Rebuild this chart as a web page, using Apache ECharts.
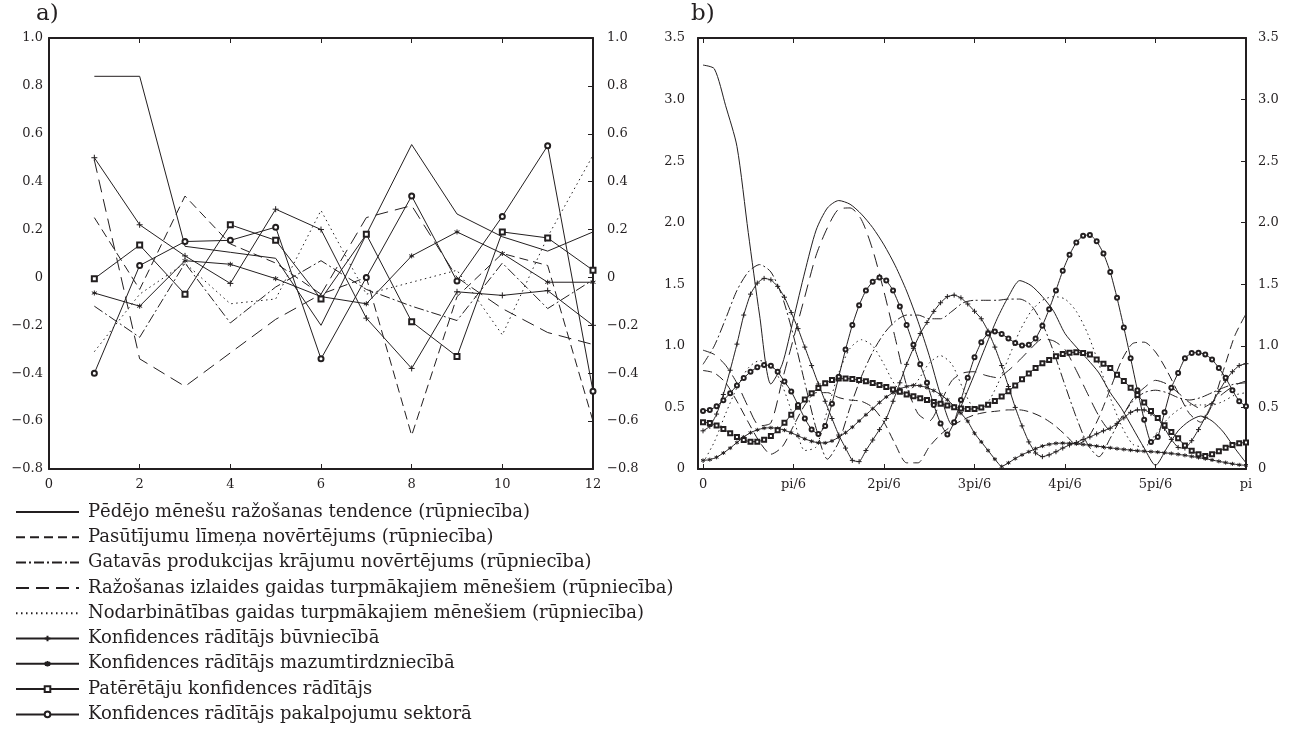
<!DOCTYPE html>
<html><head><meta charset="utf-8">
<script src="https://cdn.jsdelivr.net/npm/echarts@6/dist/echarts.min.js"></script>
<style>html,body{margin:0;padding:0;background:#fff}#c{width:1290px;height:733px}</style>
</head><body><div id="c"></div><script>
const NAMES = [
  'Pēdējo mēnešu ražošanas tendence (rūpniecība)',
  'Pasūtījumu līmeņa novērtējums (rūpniecība)',
  'Gatavās produkcijas krājumu novērtējums (rūpniecība)',
  'Ražošanas izlaides gaidas turpmākajiem mēnešiem (rūpniecība)',
  'Nodarbinātības gaidas turpmākajiem mēnešiem (rūpniecība)',
  'Konfidences rādītājs būvniecībā',
  'Konfidences rādītājs mazumtirdzniecībā',
  'Patērētāju konfidences rādītājs',
  'Konfidences rādītājs pakalpojumu sektorā'
];
// ---- panel a) : lags 1..12 ----
const A_X = [1,2,3,4,5,6,7,8,9,10,11,12];
const A1 = [0.84,0.84,0.13,0.105,0.08,-0.2,0.18,0.555,0.265,0.17,0.11,0.19];
const A2 = [0.25,-0.05,0.34,0.14,0.06,-0.07,0.0,-0.66,-0.08,0.1,0.05,-0.6];
const A3 = [-0.12,-0.25,0.06,-0.19,-0.04,0.07,-0.05,-0.12,-0.18,0.06,-0.13,-0.01];
const A4 = [0.49,-0.34,-0.455,-0.315,-0.175,-0.07,0.25,0.30,0.0,-0.13,-0.23,-0.28];
const A5 = [-0.31,-0.07,0.06,-0.11,-0.09,0.28,-0.07,-0.02,0.03,-0.24,0.17,0.51];
const A6 = [0.5,0.22,0.09,-0.025,0.285,0.2,-0.17,-0.38,-0.06,-0.075,-0.055,-0.2];
const A7 = [-0.065,-0.12,0.07,0.055,-0.005,-0.08,-0.11,0.09,0.19,0.1,-0.02,-0.02];
const A8 = [-0.005,0.135,-0.07,0.22,0.155,-0.09,0.18,-0.185,-0.33,0.19,0.165,0.03];
const A9 = [-0.4,0.05,0.15,0.155,0.21,-0.34,0.0,0.34,-0.015,0.255,0.55,-0.475];

// ---- panel b) : values read on an even frequency grid from 0 to pi ----
const B_TICK_LABELS = ['0','pi/6','2pi/6','3pi/6','4pi/6','5pi/6','pi'];
// series without markers: 49 readings (step pi/48)
const B1 = [3.28,3.25,2.95,2.62,1.92,1.25,0.69,0.85,1.22,1.60,1.94,2.12,2.18,2.15,2.07,1.96,1.82,1.65,1.445,1.20,0.92,0.60,0.36,0.55,0.77,1.00,1.22,1.40,1.53,1.49,1.40,1.28,1.10,0.99,0.89,0.78,0.62,0.49,0.33,0.17,0.03,0.17,0.31,0.39,0.43,0.39,0.30,0.17,0.05];
const B2 = [0.80,0.78,0.70,0.55,0.38,0.22,0.12,0.18,0.35,0.52,0.62,0.62,0.58,0.56,0.55,0.50,0.38,0.20,0.05,0.05,0.18,0.28,0.35,0.40,0.44,0.46,0.47,0.48,0.48,0.46,0.42,0.36,0.28,0.20,0.25,0.42,0.65,0.88,1.02,1.03,0.95,0.80,0.62,0.45,0.38,0.52,0.80,1.08,1.26];
const B3 = [0.85,1.0,1.22,1.45,1.60,1.66,1.60,1.40,1.08,0.70,0.33,0.08,0.22,0.50,0.75,0.95,1.10,1.20,1.25,1.25,1.22,1.22,1.28,1.35,1.37,1.37,1.37,1.38,1.38,1.33,1.18,0.95,0.68,0.42,0.20,0.10,0.25,0.42,0.55,0.62,0.64,0.62,0.58,0.56,0.58,0.62,0.66,0.69,0.70];
const B4 = [0.965,0.93,0.842,0.697,0.503,0.351,0.375,0.72,1.06,1.40,1.736,1.96,2.11,2.12,2.025,1.78,1.44,1.06,0.677,0.45,0.39,0.54,0.718,0.78,0.79,0.76,0.742,0.80,0.886,0.98,1.056,1.04,0.97,0.80,0.611,0.43,0.315,0.42,0.569,0.66,0.72,0.69,0.619,0.54,0.492,0.54,0.615,0.68,0.715];
const B5 = [0.05,0.22,0.45,0.66,0.82,0.88,0.85,0.68,0.42,0.15,0.18,0.48,0.78,0.98,1.05,1.00,0.85,0.68,0.62,0.72,0.86,0.92,0.85,0.65,0.50,0.52,0.68,0.90,1.12,1.28,1.37,1.40,1.38,1.28,1.10,0.85,0.58,0.35,0.20,0.18,0.28,0.40,0.48,0.52,0.52,0.52,0.55,0.60,0.62];
// series with markers: 81 readings (step pi/80)
const B6 = [0.31,0.346,0.446,0.605,0.802,1.014,1.25,1.42,1.51,1.548,
  1.536,1.483,1.395,1.27,1.14,0.99,0.84,0.69,0.55,0.41,
  0.276,0.17,0.07,0.06,0.15,0.235,0.32,0.41,0.55,0.70,
  0.85,0.98,1.10,1.19,1.28,1.35,1.40,1.412,1.39,1.34,
  1.281,1.22,1.12,0.99,0.84,0.67,0.50,0.35,0.22,0.13,
  0.10,0.115,0.14,0.17,0.195,0.215,0.24,0.26,0.285,0.31,
  0.332,0.37,0.415,0.46,0.48,0.48,0.45,0.41,0.33,0.24,
  0.175,0.17,0.23,0.32,0.42,0.53,0.63,0.72,0.79,0.84,0.855];
const B7 = [0.07,0.076,0.095,0.13,0.17,0.215,0.26,0.295,0.318,0.332,
  0.335,0.33,0.315,0.294,0.269,0.245,0.225,0.213,0.212,0.228,
  0.258,0.295,0.34,0.39,0.44,0.49,0.54,0.585,0.62,0.65,
  0.67,0.68,0.676,0.661,0.637,0.604,0.562,0.511,0.453,0.388,
  0.29,0.22,0.15,0.08,0.02,0.05,0.085,0.115,0.14,0.165,
  0.186,0.2,0.208,0.21,0.208,0.204,0.199,0.193,0.186,0.179,
  0.172,0.165,0.159,0.153,0.148,0.144,0.141,0.137,0.132,0.126,
  0.119,0.111,0.102,0.093,0.083,0.073,0.062,0.052,0.042,0.034,0.03];
const B8 = [0.38,0.373,0.353,0.324,0.291,0.26,0.235,0.222,0.222,0.238,
  0.268,0.315,0.375,0.44,0.505,0.565,0.615,0.657,0.696,0.723,
  0.734,0.734,0.73,0.722,0.712,0.699,0.683,0.666,0.646,0.627,
  0.606,0.59,0.575,0.56,0.545,0.53,0.515,0.502,0.492,0.487,
  0.487,0.499,0.521,0.552,0.589,0.632,0.679,0.728,0.776,0.821,
  0.858,0.885,0.915,0.933,0.945,0.948,0.942,0.93,0.89,0.855,
  0.82,0.765,0.715,0.66,0.60,0.54,0.47,0.415,0.355,0.30,
  0.25,0.19,0.148,0.12,0.106,0.12,0.145,0.172,0.195,0.21,0.215];
const B9 = [0.47,0.48,0.51,0.558,0.616,0.679,0.738,0.79,0.826,0.844,
  0.838,0.79,0.71,0.63,0.52,0.41,0.32,0.285,0.35,0.53,
  0.75,0.97,1.17,1.33,1.45,1.52,1.555,1.53,1.45,1.32,
  1.17,1.01,0.85,0.70,0.52,0.37,0.28,0.38,0.56,0.74,
  0.907,1.03,1.10,1.117,1.096,1.06,1.024,1.003,1.008,1.06,
  1.164,1.298,1.45,1.61,1.74,1.84,1.895,1.90,1.85,1.75,
  1.60,1.39,1.15,0.90,0.64,0.40,0.22,0.26,0.46,0.66,
  0.78,0.90,0.942,0.945,0.93,0.89,0.82,0.74,0.64,0.55,0.51];

const A_DATA = [A1,A2,A3,A4,A5,A6,A7,A8,A9];
const B_DATA = [B1,B2,B3,B4,B5,B6,B7,B8,B9];

const INK = '#231f20';
const FONT = 'DejaVu Serif';
const PLUS = 'path://M5,0L5,10M0,5L10,5';
const STAR = 'path://M5,0L5,10M0.7,2.5L9.3,7.5M0.7,7.5L9.3,2.5';
const STYLE = [
  {type:'solid', symbol:'none'},
  {type:[9,5], symbol:'none'},
  {type:[10,3,2,3], symbol:'none'},
  {type:[13,7], symbol:'none'},
  {type:[1.5,3.5], symbol:'none'},
  {type:'solid', symbol:PLUS, size:6, sizeB:5},
  {type:'solid', symbol:STAR, size:5, sizeB:4},
  {type:'solid', symbol:'emptyRect', size:5, sizeB:4},
  {type:'solid', symbol:'emptyCircle', size:5, sizeB:4}
];

function fmtY(v){
  if (Math.abs(v) < 1e-9) return '0';
  return (v < 0 ? '\u2212' : '') + Math.abs(v).toFixed(1);
}
const lbl = {fontFamily:FONT, fontSize:13, color:INK};
function axes(gi, xmin, xmax, xint, ymin, ymax, yint, lm, rm, custom, xfmt){
  const xs = [], ys = [];
  const xBase = {gridIndex:gi, type:'value', min:xmin, max:xmax, splitLine:{show:false},
    axisLine:{show:true, onZero:false, lineStyle:{color:INK, width:2}}};
  if (!custom) xBase.interval = xint;
  const tick = {show:true, inside:true, length:5, lineStyle:{color:INK, width:1}};
  if (custom) tick.customValues = custom;
  const bottomLabel = Object.assign({show:true, margin:9, formatter:xfmt}, lbl);
  if (custom) bottomLabel.customValues = custom;
  xs.push(Object.assign({}, xBase, {position:'bottom', axisTick:tick, axisLabel:bottomLabel}));
  xs.push(Object.assign({}, xBase, {position:'top', axisTick:tick, axisLabel:{show:false}}));
  const yBase = {gridIndex:gi, type:'value', min:ymin, max:ymax, interval:yint, splitLine:{show:false},
    axisLine:{show:true, onZero:false, lineStyle:{color:INK, width:2}}};
  ys.push(Object.assign({}, yBase, {position:'left', axisTick:{show:false},
    axisLabel:Object.assign({margin:lm, formatter:fmtY}, lbl)}));
  ys.push(Object.assign({}, yBase, {position:'right', axisTick:{show:true, inside:true, length:5, lineStyle:{color:INK,width:1}},
    axisLabel:Object.assign({margin:rm, formatter:fmtY}, lbl)}));
  return {xs, ys};
}
const PI = Math.PI;
const bTicks = B_TICK_LABELS.map((_, i) => i * PI / 6);
const ax1 = axes(0, 0, 12, 2, -0.8, 1.0, 0.2, 6, 14, null, v => String(v));
const ax2 = axes(1, -0.029, PI, null, 0, 3.5, 0.5, 13, 12, bTicks,
  v => { const i = Math.round(v / (PI/6)); return B_TICK_LABELS[i] !== undefined ? B_TICK_LABELS[i] : ''; });

function mkSeries(name, s, data, axisIdx, smooth, size){
  return {
    name, type:'line', xAxisIndex:axisIdx, yAxisIndex:axisIdx, data, smooth,
    symbol: s.symbol, symbolSize: size || 0, showAllSymbol:true, animation:false,
    lineStyle:{color:INK, width:1, type:s.type},
    itemStyle:{color:INK, borderColor:INK, borderWidth:1},
    emphasis:{disabled:true}
  };
}
const series = [];
A_DATA.forEach((arr, i) => {
  series.push(mkSeries(NAMES[i], STYLE[i], arr.map((v, k) => [A_X[k], v]), 0, false, STYLE[i].size));
});
B_DATA.forEach((arr, i) => {
  const n = arr.length - 1;
  series.push(mkSeries(NAMES[i], STYLE[i], arr.map((v, k) => [k * PI / n, v]), 2,
    STYLE[i].symbol === 'none' ? 0.25 : 0.15, STYLE[i].sizeB));
});

const legendData = NAMES.map((n, i) => STYLE[i].symbol === 'none' ? {name:n, itemStyle:{opacity:0}} : {name:n});

const chart = echarts.init(document.getElementById('c'), null, {renderer:'canvas'});
chart.setOption({
  animation:false,
  backgroundColor:'#fff',
  title:[
    {text:'a)', left:36, top:3, padding:0, textStyle:{fontFamily:FONT, fontSize:23, fontWeight:'normal', color:INK}},
    {text:'b)', left:691, top:3, padding:0, textStyle:{fontFamily:FONT, fontSize:23, fontWeight:'normal', color:INK}}
  ],
  grid:[
    {left:49, right:697, top:38, bottom:264},
    {left:698, right:44, top:38, bottom:264}
  ],
  xAxis: ax1.xs.concat(ax2.xs),
  yAxis: ax1.ys.concat(ax2.ys),
  legend:{
    orient:'vertical', left:15, top:503, padding:0, itemWidth:63, itemHeight:7, itemGap:7.3,
    selectedMode:false, data:legendData,
    textStyle:{fontFamily:FONT, fontSize:18, lineHeight:18, color:INK, padding:[0,0,0,4]}
  },
  series
});
</script></body></html>
